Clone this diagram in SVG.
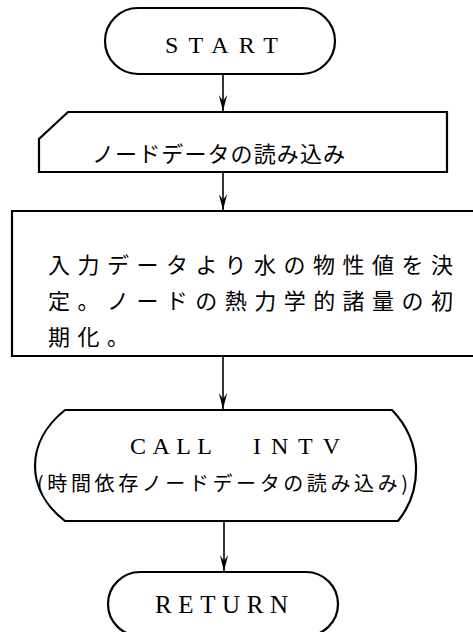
<svg xmlns="http://www.w3.org/2000/svg" width="473" height="632" viewBox="0 0 473 632">
<style>
.shape{fill:#fff;stroke:#000;stroke-width:2.2;}
.open{fill:none;stroke:#000;stroke-width:2.2;}
.conn{fill:none;stroke:#000;stroke-width:1.6;}
.lat{font-family:"Liberation Serif","Times New Roman",serif;font-size:24px;fill:#000;}
.jp{font-family:"Noto Sans CJK JP","Noto Sans CJK SC",sans-serif;font-size:22px;fill:#000;}
</style>
<defs>
<marker id="arr" markerUnits="userSpaceOnUse" markerWidth="20" markerHeight="10" refX="18" refY="5" orient="auto" viewBox="0 0 20 10">
<path d="M2,0.8 L18,5 L2,9.2 L8,5 Z" fill="#000"/>
</marker>
</defs>
<rect width="473" height="632" fill="#fff"/>
<g id="connectors">
<line class="conn" x1="223" y1="74" x2="223" y2="111" marker-end="url(#arr)"/>
<line class="conn" x1="223" y1="172" x2="223" y2="210" marker-end="url(#arr)"/>
<line class="conn" x1="223" y1="356" x2="223" y2="409" marker-end="url(#arr)"/>
<line class="conn" x1="224" y1="521" x2="224" y2="571" marker-end="url(#arr)"/>
</g>
<g id="start">
<rect class="shape" x="105" y="8" width="230" height="66" rx="33" ry="33"/>
<text class="lat" x="165" y="53" textLength="113" lengthAdjust="spacing">START</text>
</g>
<g id="read-node">
<path class="shape" d="M68,112 L447,112 L447,172 L39,172 L39,139 Z"/>
<text class="jp" x="92" y="162" textLength="253" lengthAdjust="spacing">ノードデータの読み込み</text>
</g>
<g id="init">
<path class="open" d="M475,211 L12,211 L12,356 L475,356"/>
<text class="jp" x="48" y="273" textLength="405" lengthAdjust="spacing">入力データより水の物性値を決</text>
<text class="jp" x="48" y="309" textLength="405" lengthAdjust="spacing">定。ノードの熱力学的諸量の初</text>
<text class="jp" x="48" y="345" letter-spacing="7.5">期化。</text>
</g>
<g id="call-intv">
<path class="shape" d="M65,410 L392,410 C423,442 423,490 398,521 L65,521 C25,490 25,442 65,410 Z"/>
<text class="lat"><tspan x="130" y="454" textLength="82" lengthAdjust="spacing">CALL</tspan><tspan x="253" y="454" textLength="87" lengthAdjust="spacing">INTV</tspan></text>
<text class="jp" x="37" y="491" style="font-size:20px" textLength="371" lengthAdjust="spacing">(時間依存ノードデータの読み込み)</text>
</g>
<g id="return">
<rect class="shape" x="108" y="572" width="230" height="64" rx="32" ry="32"/>
<text class="lat" x="155" y="613" style="font-size:25px" textLength="133" lengthAdjust="spacing">RETURN</text>
</g>
</svg>
